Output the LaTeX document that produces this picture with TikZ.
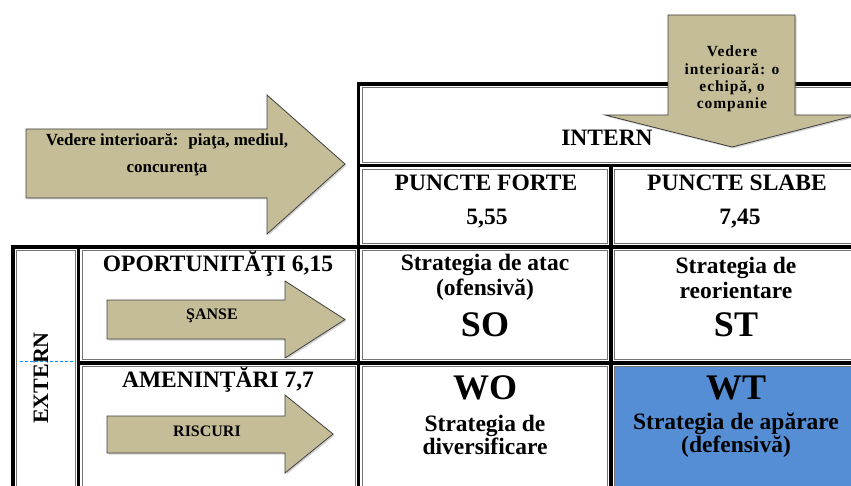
\documentclass[tikz,border=0pt]{standalone}
\usepackage{fontspec}
\setmainfont{Liberation Serif}
\usetikzlibrary{shadows}
\definecolor{khaki}{RGB}{196,189,151}
\definecolor{wtblue}{RGB}{85,142,213}
\tikzset{
  gridline/.style={line width=3.5pt,line cap=rect},
  cellline/.style={draw=black!55,line width=0.6pt},
  arrowbox/.style={fill=khaki,draw=black!75,line width=0.8pt,
    drop shadow={shadow xshift=1.5pt,shadow yshift=-1.5pt,opacity=0.35}},
  hdr/.style={inner sep=0pt,align=center,font=\bfseries\fontsize{23.5}{25}\selectfont},
  big/.style={inner sep=0pt,font=\bfseries\fontsize{36}{38}\selectfont},
  small/.style={inner sep=0pt,align=center,font=\bfseries\fontsize{16}{18}\selectfont},
}
\begin{document}
\begin{tikzpicture}[x=1pt,y=-1pt]
    \clip (0,0) rectangle (851,486);
    \fill[white] (0,0) rectangle (851,486);
    % cells with thin borders
    \fill[wtblue] (615,367) rectangle (880,500);
    \foreach \xa/\ya/\xb/\yb in {358.5/84/880/165.5, 358.5/165.5/611/247, 611/165.5/880/247,
        13/247/78.5/500, 78.5/247/358.5/363, 78.5/363/358.5/500,
        358.5/247/611/363, 611/247/880/363, 358.5/363/611/500, 611/363/880/500}
      \draw[cellline] (\xa+3.6,\ya+3.6) rectangle (\xb-3.6,\yb-3.6);
    % thick grid
    \draw[gridline] (358.5,247) -- (358.5,84) -- (880,84);
    \draw[gridline] (358.5,165.5) -- (880,165.5);
    \draw[gridline] (611,165.5) -- (611,500);
    \draw[gridline] (13,500) -- (13,247) -- (880,247);
    \draw[gridline] (78.5,247) -- (78.5,500);
    \draw[gridline] (358.5,247) -- (358.5,500);
    \draw[gridline] (78.5,363) -- (880,363);
    \draw[blue!45!cyan,densely dashed,line width=0.5pt] (20,361) -- (76,361);
    % arrows
    \draw[arrowbox] (26,129) -- (267,129) -- (267,95) -- (345,164)
        -- (267,234) -- (267,198) -- (26,198) -- cycle;
    \draw[arrowbox] (668,15) -- (795,15) -- (795,115) -- (857,115)
        -- (732,147) -- (605,115) -- (668,115) -- cycle;
    \draw[arrowbox] (107,300) -- (285,300) -- (285,281) -- (345,319.5)
        -- (285,358) -- (285,339) -- (107,339) -- cycle;
    \draw[arrowbox] (107,416) -- (285,416) -- (285,395) -- (333,434)
        -- (285,473) -- (285,453) -- (107,453) -- cycle;
    % arrow texts
    \node[inner sep=0pt,align=center,font=\bfseries\fontsize{17}{27}\selectfont] (pview)
        at (167,155) {Vedere interioară:~ piaţa, mediul,\\concurenţa};
    \node[inner sep=0pt,align=center,
        font=\bfseries\fontsize{15.5}{17.3}\selectfont\addfontfeatures{LetterSpace=6}] (iview)
        at (732,79) {Vedere\\interioară: o\\echipă, o\\companie};
    \node[small] (sanse) at (212,316) {ŞANSE};
    \node[small] (riscuri) at (207,431) {RISCURI};
    % headers
    \node[hdr] (intern) at (607,138) {INTERN};
    \node[hdr] (forte) at (486,183) {PUNCTE FORTE};
    \node[hdr] (forteval) at (487,219) {5,55};
    \node[hdr] (slabe) at (737,183) {PUNCTE SLABE};
    \node[hdr] (slabeval) at (740,219) {7,45};
    \node[hdr] (oport) at (218,264) {OPORTUNITĂŢI 6,15};
    \node[hdr] (amen) at (218,380) {AMENINŢĂRI 7,7};
    \node[hdr,rotate=90,font=\bfseries\fontsize{22}{24}\selectfont] (extern) at (41,378) {EXTERN};
    % strategies
    \node[hdr] (sotext) at (485,277.5) {Strategia de atac\\(ofensivă)};
    \node[big] (so) at (485,325) {SO};
    \node[hdr] (sttext) at (736,277.5) {Strategia de\\reorientare};
    \node[big] (st) at (736,325) {ST};
    \node[big] (wo) at (485,388) {WO};
    \node[hdr,font=\bfseries\fontsize{23.5}{23}\selectfont] (wotext) at (485,435) {Strategia de\\diversificare};
    \node[big] (wt) at (736,388) {WT};
    \node[hdr,font=\bfseries\fontsize{23.5}{23}\selectfont] (wttext) at (736,435) {Strategia de apărare\\(defensivă)};
\end{tikzpicture}
\end{document}
